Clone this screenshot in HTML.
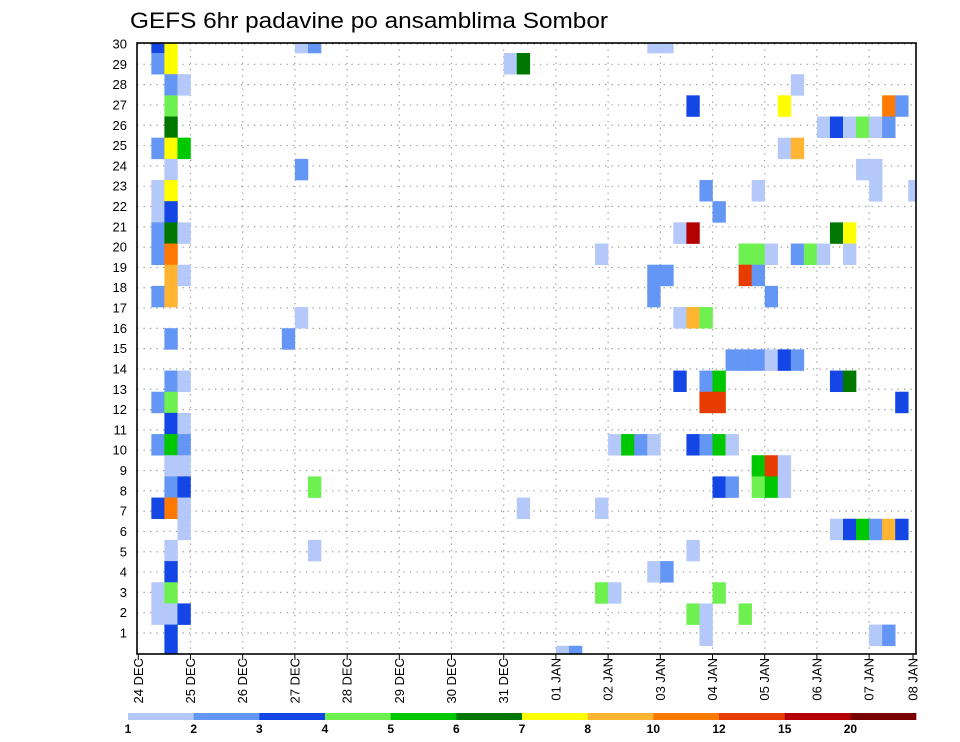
<!DOCTYPE html>
<html><head><meta charset="utf-8"><style>
body{margin:0;background:#fff;}
svg{display:block;font-family:"Liberation Sans",sans-serif;}
</style></head><body>
<svg id="chart" width="960" height="742" viewBox="0 0 960 742" xmlns="http://www.w3.org/2000/svg">
<text x="130" y="28" font-size="22" textLength="478" lengthAdjust="spacingAndGlyphs">GEFS 6hr padavine po ansamblima Sombor</text>
<defs><clipPath id="plotclip"><rect x="137" y="43" width="779" height="611"/></clipPath></defs>
<g id="grid"></g>
<g id="cells" clip-path="url(#plotclip)"></g>
<rect x="137" y="43" width="779" height="611" fill="none" stroke="#000" stroke-width="1.6"/>
<g id="yaxis"></g>
<g id="xaxis"></g>
<g id="cbar"></g>
</svg>
<script>
const dateLabels=["24 DEC","25 DEC","26 DEC","27 DEC","28 DEC","29 DEC","30 DEC","31 DEC","01 JAN","02 JAN","03 JAN","04 JAN","05 JAN","06 JAN","07 JAN","08 JAN"];
const memberLabels=[1,2,3,4,5,6,7,8,9,10,11,12,13,14,15,16,17,18,19,20,21,22,23,24,25,26,27,28,29,30];
const levelTicks=[1,2,3,4,5,6,7,8,10,12,15,20];
const levelColors=["#b4c8fa","#6496f5","#1446e6","#6ef050","#00c800","#007800","#ffff00","#ffb432","#ff7800","#e63c00","#b40000","#780000"];
const memberRow=[
0,1,5,7,8,9,10,12,17,19,22,26,27,
0,1,2,3,4,5,6,7,8,9,10,11,12,14,16,17,18,19,20,21,22,24,25,26,27,28,29,
2,5,9,11,16,18,19,20,21,22,23,27,
0,0,6,13,14,21,24,1,1,22,29,29,10,22,
0,0,3,7,7,8,9,9,10,10,11,11,11,11,12,13,13,13,
15,15,15,15,15,15,16,16,16,17,17,19,19,19,19,19,19,19,19,20,20,20,21,21,21,21,21,24,25,25,26,26,26,27,27,28,27,
2,3,3,3,4,4,4,4,4,4,5,5,6,6,7,7,9,9,10,10,10,10,10,12,
16,16,17,23,23,23,23,23,23,28,28];
const timeStep=[
1,1,1,1,1,1,1,1,1,1,1,1,1,
2,2,2,2,2,2,2,2,2,2,2,2,2,2,2,2,2,2,2,2,2,2,2,2,2,2,2,
3,3,3,3,3,3,3,3,3,3,3,3,
12,13,12,12,11,13,13,28,29,29,32,33,35,35,
39,40,42,43,47,44,41,42,46,47,46,47,39,40,39,41,42,43,
45,46,47,48,49,50,41,43,44,43,44,36,37,38,39,42,43,44,45,47,48,49,47,48,49,44,45,42,39,40,35,36,44,42,43,43,46,
50,49,57,58,52,53,54,55,56,57,49,50,55,56,56,59,53,54,48,50,51,52,54,48,
53,54,58,53,54,55,56,57,58,56,57];
const precipValue=[
3.5,2.5,2.5,1.5,1.5,2.5,2.5,2.5,2.5,2.5,3.5,1.5,1.5,
7.5,7.5,2.5,4.5,6.5,7.5,1.5,7.5,3.5,6.5,11,9,9,2.5,2.5,4.5,3.5,5.5,1.5,2.5,11,1.5,3.5,4.5,1.5,3.5,3.5,
1.5,5.5,1.5,1.5,1.5,1.5,2.5,1.5,3.5,1.5,1.5,3.5,
1.5,2.5,2.5,1.5,2.5,4.5,1.5,1.5,6.5,1.5,1.5,2.5,1.5,1.5,
1.5,1.5,3.5,2.5,1.5,2.5,1.5,17.5,4.5,4.5,13.5,2.5,2.5,2.5,2.5,1.5,9,4.5,
2.5,2.5,2.5,1.5,3.5,2.5,3.5,2.5,5.5,13.5,13.5,1.5,5.5,2.5,1.5,3.5,2.5,5.5,1.5,5.5,13.5,1.5,4.5,5.5,1.5,3.5,2.5,1.5,1.5,2.5,4.5,1.5,4.5,4.5,1.5,1.5,4.5,
1.5,7.5,11,2.5,1.5,3.5,1.5,4.5,1.5,2.5,1.5,9,1.5,1.5,1.5,1.5,6.5,7.5,1.5,2.5,4.5,1.5,1.5,2.5,
3.5,6.5,3.5,1.5,3.5,5.5,2.5,9,3.5,1.5,2.5];

const NS="http://www.w3.org/2000/svg";
function mk(t,a,p){const e=document.createElementNS(NS,t);for(const k in a)e.setAttribute(k,a[k]);p.appendChild(e);return e;}
const X0=138.3,STEP=13.05;
function xStep(s){return X0+s*STEP;}
function xDay(d){return X0+d*4*STEP;}
const ROWH=21.17;
function yRow(r){return 53+ROWH*(r-1);}
function yLabel(k){return 633-(k-1)*20.31;}
function colorFor(v){let k=0;for(let i=0;i<levelTicks.length;i++){if(v>=levelTicks[i])k=i;}return levelColors[k];}

const grid=document.getElementById('grid');
memberLabels.forEach(k=>{
  const l=mk('line',{x1:137,x2:916,y1:yLabel(k),y2:yLabel(k),stroke:'#999','stroke-width':1.2,'stroke-dasharray':'1.3 5.2'},grid);
  
  
});
dateLabels.forEach((d,i)=>{
  if(i===0)return;const x=xDay(i);if(x>915)return;
  const l=mk('line',{x1:x,x2:x,y1:43,y2:654,stroke:'#999','stroke-width':1.2,'stroke-dasharray':'1.3 5.2'},grid);
  
  
});

const cells=document.getElementById('cells');
for(let i=0;i<memberRow.length;i++){
  const r=mk('rect',{x:xStep(timeStep[i]),y:yRow(memberRow[i]),width:STEP+0.3,height:ROWH+0.3,fill:colorFor(precipValue[i])},cells);
  
  
}

const ya=document.getElementById('yaxis');
memberLabels.forEach(k=>{
  const t=mk('text',{x:127,y:yLabel(k)+4.5,'font-size':13,'text-anchor':'end'},ya);
  t.textContent=k;
  
  
});

const xa=document.getElementById('xaxis');
dateLabels.forEach((d,i)=>{
  let x=xDay(i);if(x>913)x=913;
  const tk=mk('line',{x1:x,x2:x,y1:654,y2:660,stroke:'#000','stroke-width':1},xa);
  
  
  const t=mk('text',{x:0,y:0,'font-size':13,'text-anchor':'end',transform:`translate(${x+4.5},658) rotate(-90)`},xa);
  t.textContent=d;
  
  
});

const cb=document.getElementById('cbar');
const CBX=128,CBW=65.67;
levelColors.forEach((c,i)=>{
  const r=mk('rect',{x:CBX+i*CBW,y:713,width:CBW+0.3,height:7,fill:c},cb);
  
  
});
levelTicks.forEach((v,i)=>{
  const t=mk('text',{x:CBX+i*CBW,y:733,'font-size':12,'font-weight':'bold','text-anchor':'middle'},cb);
  t.textContent=v;
  
  
});
</script>
</body></html>
